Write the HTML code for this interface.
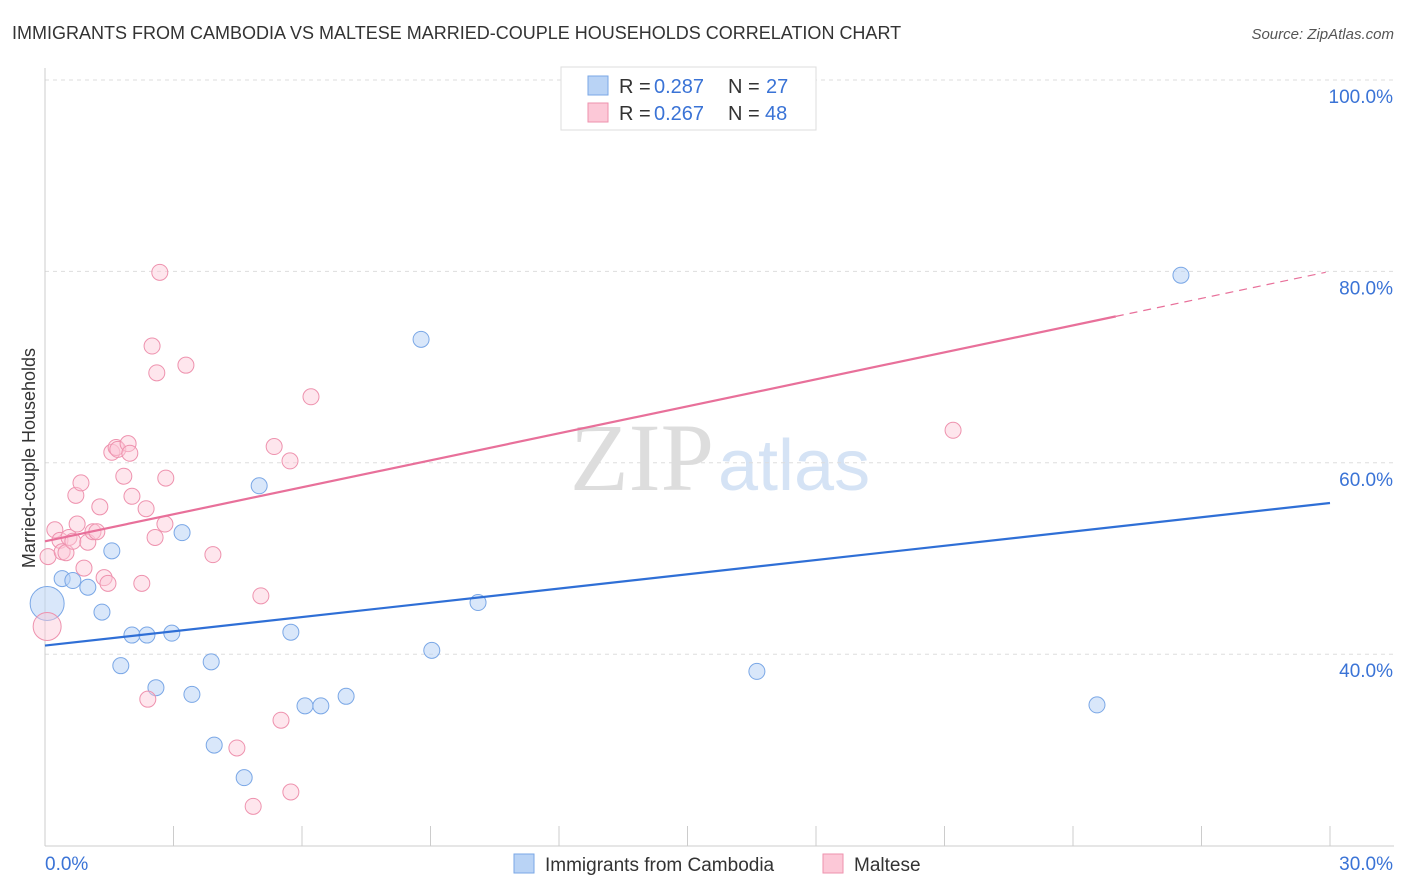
<!DOCTYPE html>
<html><head><meta charset="utf-8"><style>
body{margin:0;background:#fff;font-family:"Liberation Sans",sans-serif;}
svg{display:block}
</style></head><body>
<svg id="c" width="1406" height="892">
<text x="12" y="39" font-size="18" fill="#333">IMMIGRANTS FROM CAMBODIA VS MALTESE MARRIED-COUPLE HOUSEHOLDS CORRELATION CHART</text>
<text x="1394" y="39" font-size="15" fill="#555" font-style="italic" text-anchor="end">Source: ZipAtlas.com</text>
<text x="35" y="458" font-size="18" fill="#333" transform="rotate(-90 35 458)" text-anchor="middle">Married-couple Households</text>
<text x="714" y="490" font-size="96" fill="#ddd" text-anchor="end" font-family="Liberation Serif">ZIP</text>
<text x="718" y="490" font-size="72" fill="#d5e3f5">atlas</text>
<g id="grid"></g><g id="pts"></g><g id="lines"></g>
<g>
<rect x="561" y="67" width="255" height="63" fill="#fff" stroke="#ddd"/>
<rect x="588" y="76" width="20" height="19" fill="#b9d3f5" stroke="#7aa7e6"/>
<rect x="588" y="103" width="20" height="19" fill="#fcc8d7" stroke="#ee92ae"/>
<text x="619" y="93" font-size="20" fill="#333">R =</text>
<text x="654" y="93" font-size="20" fill="#3a73d6">0.287</text>
<text x="728" y="93" font-size="20" fill="#333">N =</text>
<text x="766" y="93" font-size="20" fill="#3a73d6">27</text>
<text x="619" y="120" font-size="20" fill="#333">R =</text>
<text x="654" y="120" font-size="20" fill="#3a73d6">0.267</text>
<text x="728" y="120" font-size="20" fill="#333">N =</text>
<text x="765" y="120" font-size="20" fill="#3a73d6">48</text>
</g>
<g>
<rect x="514" y="854" width="20" height="19" fill="#b9d3f5" stroke="#7aa7e6"/>
<text x="545" y="871" font-size="19" fill="#333">Immigrants from Cambodia</text>
<rect x="823" y="854" width="20" height="19" fill="#fcc8d7" stroke="#ee92ae"/>
<text x="854" y="871" font-size="19" fill="#333">Maltese</text>
</g>
</svg>
<script>
const blueX=[0.05,0.40,0.65,1.00,1.33,1.56,1.77,2.03,2.38,2.59,2.96,3.20,3.43,3.88,3.95,4.65,5.00,5.74,6.07,6.44,7.03,8.78,9.03,10.11,16.62,24.56,26.52];
const blueY=[45.3,47.9,47.7,47.0,44.4,50.8,38.8,42.0,42.0,36.5,42.2,52.7,35.8,39.2,30.5,27.1,57.6,42.3,34.6,34.6,35.6,72.9,40.4,45.4,38.2,34.7,79.6];
const pinkX=[0.05,0.07,0.23,0.35,0.40,0.49,0.56,0.65,0.72,0.75,0.84,0.91,1.00,1.12,1.21,1.28,1.38,1.47,1.56,1.66,1.70,1.84,1.94,1.98,2.03,2.26,2.36,2.40,2.50,2.57,2.61,2.68,2.80,2.82,3.29,3.92,4.48,4.86,5.04,5.35,5.51,5.72,5.74,6.21,21.20,14.29];
const pinkY=[42.9,50.2,53.0,51.9,50.7,50.6,52.2,51.8,56.6,53.6,57.9,49.0,51.7,52.8,52.8,55.4,48.0,47.4,61.1,61.6,61.4,58.6,62.0,61.0,56.5,47.4,55.2,35.3,72.2,52.2,69.4,79.9,53.6,58.4,70.2,50.4,30.2,24.1,46.1,61.7,33.1,60.2,25.6,66.9,63.4,100.2];
const blueTrend=[40.9,55.8];
const pinkTrend=[51.8,80.0];
const yTicks=[40,60,80,100];
const xTicks=[0,30];
const X=v=>45+v/30*1285, Y=v=>80+(100-v)*9.57;
const NS="http://www.w3.org/2000/svg";
function mk(t,a,p){const e=document.createElementNS(NS,t);for(const k in a)e.setAttribute(k,a[k]);p.appendChild(e);return e;}
const g=document.getElementById('grid');
yTicks.forEach(v=>{
const l=mk('line',{x1:45,x2:1394,y1:Y(v),y2:Y(v),stroke:'#ddd','stroke-dasharray':'4,4'},g);


const t=mk('text',{x:1393,y:Y(v)+23,'font-size':19,fill:'#3a73d6','text-anchor':'end'},g);t.textContent=v.toFixed(1)+'%';


});
mk('line',{x1:45,x2:45,y1:68,y2:846,stroke:'#ccc'},g);
mk('line',{x1:45,x2:1394,y1:846,y2:846,stroke:'#ccc'},g);
for(let i=0;i<=10;i++){mk('line',{x1:X(i*3),x2:X(i*3),y1:826,y2:846,stroke:'#ccc'},g);}
xTicks.forEach((v,i)=>{const t=mk('text',{x:i?1393:45,y:870,'font-size':19,fill:'#3a73d6','text-anchor':i?'end':'start'},g);t.textContent=v.toFixed(1)+'%';

});
const p=document.getElementById('pts');
blueX.forEach((x,i)=>{const c=mk('circle',{cx:X(x),cy:Y(blueY[i]),r:i==0?17:8,fill:'rgba(185,211,245,0.55)',stroke:'#7aa7e6','stroke-width':1},p);

});
pinkX.forEach((x,i)=>{const c=mk('circle',{cx:X(x),cy:Y(pinkY[i]),r:i==0?14:8,fill:'rgba(252,200,215,0.45)',stroke:'#ee92ae','stroke-width':1},p);

});
const L=document.getElementById('lines');
const b=mk('line',{x1:X(0),y1:Y(blueTrend[0]),x2:X(30),y2:Y(blueTrend[1]),stroke:'#2f6fd6','stroke-width':2.2},L);


const pe=25, pm=pinkTrend[0]+(pinkTrend[1]-pinkTrend[0])*pe/30;
const a=mk('line',{x1:X(0),y1:Y(pinkTrend[0]),x2:X(pe),y2:Y(pm),stroke:'#e8709a','stroke-width':2.2},L);


const d=mk('line',{x1:X(pe),y1:Y(pm),x2:X(29.9),y2:Y(pinkTrend[0]+(pinkTrend[1]-pinkTrend[0])*29.9/30),stroke:'#e8709a','stroke-width':1.2,'stroke-dasharray':'8,6'},L);


</script>
</body></html>
